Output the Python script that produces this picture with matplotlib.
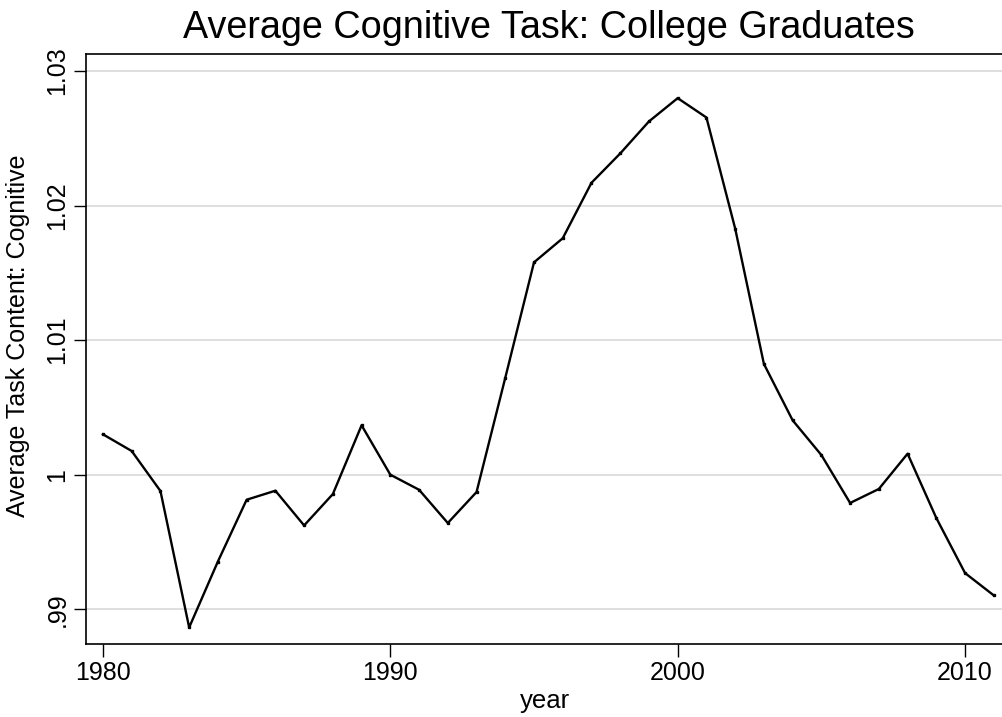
import matplotlib
matplotlib.use("Agg")
import matplotlib.pyplot as plt

plt.rcParams['font.family'] = ['Liberation Sans', 'DejaVu Sans']

years = list(range(1980, 2012))
cognitive = [1.0030, 1.00176, 0.99879, 0.98865, 0.99355, 0.99814, 0.99881, 0.99623,
             0.99856, 1.00367, 1.0000, 0.99888, 0.99641, 0.99871, 1.0072, 1.01578,
             1.01757, 1.02169, 1.02387, 1.02625, 1.02798, 1.02654, 1.01829, 1.00823,
             1.00404, 1.00146, 0.9979, 0.99894, 1.00156, 0.99678, 0.99269, 0.99103]

ytick_vals = [0.99, 1.00, 1.01, 1.02, 1.03]
ytick_labels = ['.99', '1', '1.01', '1.02', '1.03']
xtick_vals = [1980, 1990, 2000, 2010]

fig = plt.figure(figsize=(10.03, 7.17), dpi=100)
ax = fig.add_axes([86/1003, 1 - 644/717, 1 - 86/1003, (644 - 54)/717])

ax.plot(years, cognitive, color='black', lw=1.7, marker='s', markersize=1.6)

ax.set_xlim(1979.41, 2011.32)
ax.set_ylim(0.98742, 1.03126)

ax.set_yticks(ytick_vals)
ax.set_yticklabels(ytick_labels, rotation=90, va='center')
ax.set_xticks(xtick_vals)
ax.tick_params(axis='both', labelsize=18, length=9, width=1, direction='out', color='black')
ax.tick_params(axis='y', pad=3)
ax.tick_params(axis='x', pad=3)

ax.yaxis.grid(True, color='#dcdcdc', lw=1.3)
ax.set_axisbelow(True)
ax.spines['right'].set_visible(False)
for s in ['left', 'top', 'bottom']:
    ax.spines[s].set_linewidth(1.2)

ax.set_xlabel('year', fontsize=18.5, labelpad=3)
ax.set_ylabel('Average Task Content: Cognitive', fontsize=18)
ax.yaxis.set_label_coords(-0.061, 0.522)
fig.suptitle('Average Cognitive Task: College Graduates', fontsize=27.2, y=0.986, x=0.547)

fig.savefig('out.png', dpi=100)
